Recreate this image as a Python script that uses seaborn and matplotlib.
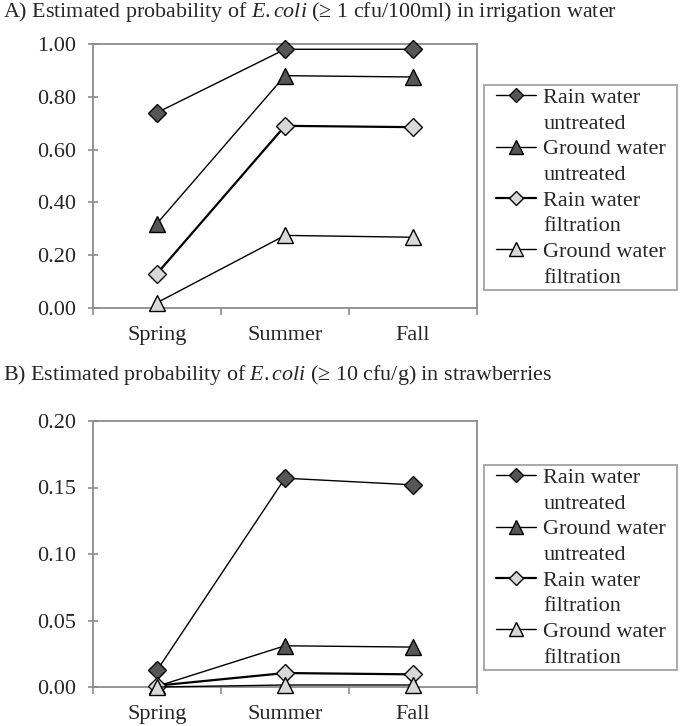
import numpy as np
import pandas as pd
import matplotlib
matplotlib.use("Agg")
import matplotlib.pyplot as plt
from matplotlib.lines import Line2D
from matplotlib.legend_handler import HandlerLine2D
from matplotlib.ticker import FormatStrFormatter, MultipleLocator
import seaborn as sns

# Data
seasons = ["Spring", "Summer", "Fall"]
series_names = ["Rain water untreated", "Ground water untreated",
                "Rain water filtration", "Ground water filtration"]

# A) irrigation water, P(E. coli >= 1 cfu/100ml)
water_rain_untreated = [0.74, 0.98, 0.98]
water_ground_untreated = [0.32, 0.88, 0.875]
water_rain_filtration = [0.13, 0.69, 0.685]
water_ground_filtration = [0.02, 0.275, 0.268]

# B) strawberries, P(E. coli >= 10 cfu/g)
berry_rain_untreated = [0.0125, 0.157, 0.152]
berry_ground_untreated = [0.0005, 0.031, 0.030]
berry_rain_filtration = [0.001, 0.0105, 0.0095]
berry_ground_filtration = [0.0, 0.0015, 0.0015]

title_a = "A) Estimated probability of $\\it{E. coli}$ (\u2265 1 cfu/100ml) in irrigation water"
title_b = "B) Estimated probability of $\\it{E. coli}$ (\u2265 10 cfu/g) in strawberries"

# style per series: marker, face colour, line width, marker size
styles = {
    "Rain water untreated": ("D", "#565656", 1.0, 9),
    "Ground water untreated": ("^", "#565656", 1.0, 12),
    "Rain water filtration": ("D", "#d8d8d8", 1.6, 9),
    "Ground water filtration": ("^", "#d8d8d8", 1.0, 12),
}

sns.set_theme(style="white")
plt.rcParams["font.family"] = ["Liberation Serif", "DejaVu Serif"]
plt.rcParams["mathtext.fontset"] = "custom"
plt.rcParams["mathtext.it"] = "Liberation Serif:italic"
plt.rcParams["mathtext.rm"] = "Liberation Serif"

frame_col = "#8c8c8c"
fs = 16


def make_df(values):
    rows = []
    for name, vals in zip(series_names, values):
        for s, v in zip(seasons, vals):
            rows.append({"season": s, "prob": v, "series": name})
    return pd.DataFrame(rows)


df_a = make_df([water_rain_untreated, water_ground_untreated,
                water_rain_filtration, water_ground_filtration])
df_b = make_df([berry_rain_untreated, berry_ground_untreated,
                berry_rain_filtration, berry_ground_filtration])

fig = plt.figure(figsize=(6.8, 7.26), dpi=100)
ax_a = fig.add_axes([93 / 680, 1 - 308 / 726, 384 / 680, 264 / 726])
ax_b = fig.add_axes([93 / 680, 1 - 687 / 726, 384 / 680, 266 / 726])

fs_px = fs * 100 / 72


def draw_panel(ax, df, ymax, ystep, legend_top):
    for name in series_names:
        marker, face, lw, ms = styles[name]
        sub = df[df["series"] == name]
        sns.lineplot(data=sub, x="season", y="prob", ax=ax, sort=False,
                     color="black", linewidth=lw, marker=marker,
                     markersize=ms, markerfacecolor=face,
                     markeredgecolor="black", markeredgewidth=1.0,
                     label=name, legend=False, zorder=3, clip_on=False)
    ax.set_xlim(-0.5, 2.5)
    ax.set_ylim(0, ymax)
    ax.yaxis.set_major_locator(MultipleLocator(ystep))
    ax.yaxis.set_major_formatter(FormatStrFormatter("%.2f"))
    ax.set_xticks(range(len(seasons)))
    ax.set_xticklabels(seasons)
    ax.set_xticks([-0.5, 0.5, 1.5, 2.5], minor=True)
    ax.set_xlabel("")
    ax.set_ylabel("")
    for sp in ax.spines.values():
        sp.set_visible(True)
        sp.set_color(frame_col)
        sp.set_linewidth(1.3)
    ax.tick_params(axis="y", which="major", direction="inout", length=7,
                   width=1.2, color=frame_col, pad=9, labelsize=fs,
                   left=True)
    ax.tick_params(axis="x", which="major", length=0, pad=13, labelsize=fs)
    ax.tick_params(axis="x", which="minor", direction="out", length=5,
                   width=1.2, color=frame_col, bottom=True)

    # legend: handle next to the first line of each two-line label
    handles, labels = [], []
    for name in series_names:
        marker, face, lw, ms = styles[name]
        words = name.split(" ")
        handles.append(Line2D([], [], color="black", linewidth=lw,
                              marker=marker, markersize=ms * 0.8,
                              markerfacecolor=face, markeredgecolor="black"))
        labels.append(" ".join(words[:2]))
        handles.append(Line2D([], [], linestyle="none"))
        labels.append(words[2])
    box_h = 204 / 726
    leg = fig.legend(handles, labels, loc="upper left",
                     bbox_to_anchor=(484 / 680, 1 - legend_top / 726 - box_h,
                                     193 / 680, box_h),
                     mode="expand",
                     fontsize=fs, frameon=True, fancybox=False,
                     edgecolor=frame_col, handlelength=50 / fs_px,
                     handletextpad=7 / fs_px, labelspacing=0.23,
                     borderpad=0.11, borderaxespad=0,
                     handler_map={Line2D: HandlerLine2D(xpad=10 / fs_px)})
    leg.get_frame().set_linewidth(1.3)


draw_panel(ax_a, df_a, 1.0, 0.2, 85)
draw_panel(ax_b, df_b, 0.2, 0.05, 465)

fig.text(3 / 680, 1 - 12 / 726, title_a, fontsize=15.8, va="center", ha="left")
fig.text(3 / 680, 1 - 375 / 726, title_b, fontsize=15.8, va="center", ha="left")

fig.savefig("out.png", dpi=100)
